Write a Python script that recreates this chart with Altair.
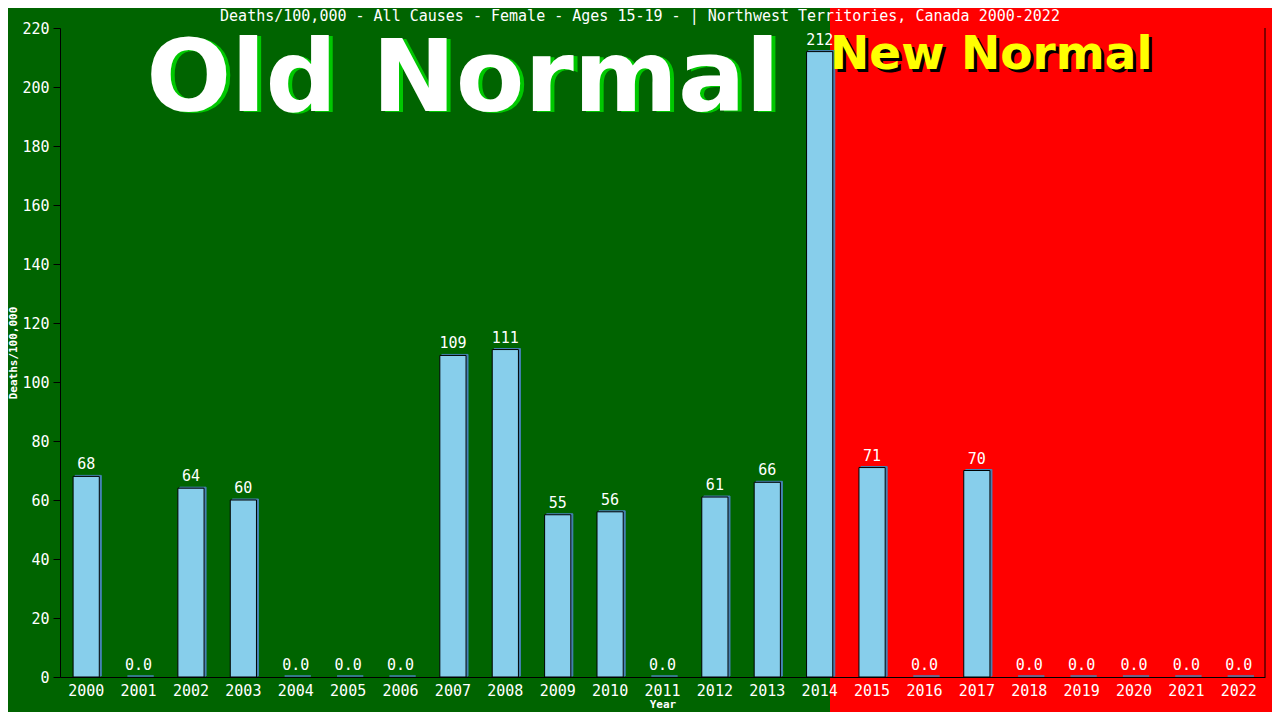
import altair as alt
import pandas as pd

years = [str(y) for y in range(2000, 2023)]
values = [68, 0, 64, 60, 0, 0, 0, 109, 111, 55, 56, 0, 61, 66, 212, 71, 0, 70, 0, 0, 0, 0, 0]

title_text = "Deaths/100,000 - All Causes - Female - Ages 15-19 -  | Northwest Territories, Canada 2000-2022"
old_label = "Old Normal"
new_label = "New Normal"

df = pd.DataFrame({"Year": years, "v": values})
one = pd.DataFrame({"k": [0]})

W, H = 1205, 649
MONO = "DejaVu Sans Mono"

xenc = alt.X("Year:N", sort=years, title="Year",
             scale=alt.Scale(paddingInner=0.5, paddingOuter=0.25),
             axis=alt.Axis(labelAngle=0, ticks=False, labelColor="white", labelFont=MONO,
                           labelFontSize=15, labelPadding=6, domainColor="black",
                           titleColor="white", titleFont=MONO, titleFontSize=11,
                           titleFontWeight="bold", titlePadding=0, zindex=1))
yenc = alt.Y("v:Q", title="Deaths/100,000",
             scale=alt.Scale(domain=[0, 220], nice=False),
             axis=alt.Axis(values=list(range(0, 221, 20)), grid=False, tickColor="black",
                           tickSize=7, domainColor="black", labelColor="white", labelFont=MONO,
                           labelFontSize=15, labelPadding=4, titleColor="white", titleFont=MONO,
                           titleFontSize=11, titleFontWeight="bold", titlePadding=3, zindex=1))

red = alt.Chart(one).mark_rect(color="#FF0000").encode(
    x=alt.value(770), x2=alt.value(1400), y=alt.value(-60), y2=alt.value(800))

shadow = alt.Chart(df).mark_bar(color="#4682B4", stroke="#4682B4", strokeWidth=1,
                                xOffset=2, yOffset=-1).encode(x=xenc, y=yenc)

bars = alt.Chart(df).mark_bar(color="#87CEEB", stroke="black", strokeWidth=1).encode(
    x=xenc, y=yenc,
    strokeOpacity=alt.condition("datum.v == 0", alt.value(0), alt.value(1)))

labels = alt.Chart(df).transform_calculate(
    lab="datum.v == 0 ? '0.0' : format(datum.v, '.0f')"
).mark_text(color="white", font=MONO, fontSize=15, baseline="bottom", dy=-4).encode(
    x=xenc, y=yenc, text="lab:N")

right_rule = alt.Chart(one).mark_rule(color="black").encode(
    x=alt.value(W), y=alt.value(0), y2=alt.value(H))

title = alt.Chart(one).mark_text(text=title_text, font=MONO, fontSize=15, color="white",
                                 align="center", baseline="middle").encode(
    x=alt.value(580), y=alt.value(-12))

old_shadow = alt.Chart(one).mark_text(text=old_label, font="DejaVu Sans", fontWeight="bold",
                                      fontSize=100, color="#00C800", align="center",
                                      baseline="alphabetic").encode(
    x=alt.value(407), y=alt.value(84))
old_text = alt.Chart(one).mark_text(text=old_label, font="DejaVu Sans", fontWeight="bold",
                                    fontSize=100, color="white", align="center",
                                    baseline="alphabetic").encode(
    x=alt.value(403), y=alt.value(83))

new_shadow = alt.Chart(one).mark_text(text=new_label, font="DejaVu Sans", fontWeight="bold",
                                      fontSize=47, color="black", align="left",
                                      baseline="alphabetic").encode(
    x=alt.value(773), y=alt.value(44))
new_text = alt.Chart(one).mark_text(text=new_label, font="DejaVu Sans", fontWeight="bold",
                                    fontSize=47, color="#FFFF00", align="left",
                                    baseline="alphabetic").encode(
    x=alt.value(770), y=alt.value(41))

chart = alt.layer(
    red, shadow, bars, labels, right_rule, title, old_shadow, old_text, new_shadow, new_text
).properties(
    width=W, height=H,
    autosize=alt.AutoSizeParams(type="none"),
    padding={"left": 52, "top": 20, "right": 7, "bottom": 35},
    background="#006400",
).configure_view(stroke=None)

chart.save("out.html", embed_options={"renderer": "svg", "actions": False})
